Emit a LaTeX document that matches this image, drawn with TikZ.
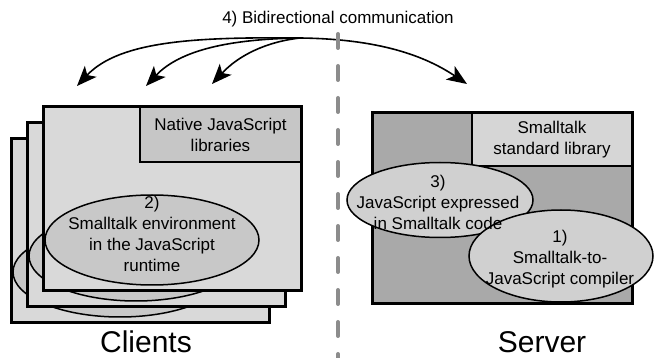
\documentclass[tikz,border=0pt]{standalone}
\usepackage{fontspec}
\setmainfont{Liberation Sans}
\usetikzlibrary{shapes.geometric,arrows.meta}
\definecolor{clientfill}{HTML}{D9D9D9}
\definecolor{libfill}{HTML}{C6C6C6}
\definecolor{serverfill}{HTML}{A9A9A9}
\definecolor{stdfill}{HTML}{D6D6D6}
\definecolor{ellfill}{HTML}{C8C8C8}
\definecolor{sellfill}{HTML}{D0D0D0}
\definecolor{dashgray}{HTML}{8C8C8C}
\tikzset{
  frame/.style={draw=black, line width=3pt, inner sep=0pt, outer sep=0pt,
    minimum width=258pt, minimum height=184pt},
  clientframe/.style={frame, fill=clientfill},
  serverframe/.style={frame, fill=serverfill, minimum width=260pt, minimum height=191pt},
  libbox/.style={draw=black, line width=1.5pt, inner sep=0pt, outer sep=0pt,
    align=center, font=\fontsize{17}{21}\selectfont},
  ell/.style={ellipse, draw=black, line width=1.5pt, inner sep=0pt, outer sep=0pt,
    align=center, font=\fontsize{17}{21}\selectfont},
  txt/.style={align=center, inner sep=0pt, font=\fontsize{17}{21}\selectfont},
  bigtxt/.style={inner sep=0pt, font=\fontsize{30}{36}\selectfont, anchor=base},
  comm/.style={line width=1.6pt},
  tipstyle/.style={-{Stealth[length=20pt,width=16pt,inset=5pt]}},
  bothtips/.style={{Stealth[length=20pt,width=16pt,inset=5pt]}-{Stealth[length=20pt,width=16pt,inset=5pt]}},
  divider/.style={draw=dashgray, line width=4pt, line cap=round, dash pattern=on 14pt off 18pt}
}
\begin{document}
\begin{tikzpicture}[x=1pt,y=-1pt]
\useasboundingbox (0,0) rectangle (657,358);

% --- clients (stacked)
\node[clientframe] (c3) at (140,231) {};
\node[ell, fill=ellfill, minimum width=214pt, minimum height=90pt] (e2c) at (120,272) {};
\node[clientframe] (c2) at (156,215) {};
\node[ell, fill=ellfill, minimum width=214pt, minimum height=90pt] (e2b) at (136,256) {};
\node[clientframe] (c1) at (172,199) {};
\node[libbox, fill=libfill, minimum width=161pt, minimum height=55pt, anchor=north east]
  (nat) at (c1.north east) {Native JavaScript\\libraries};
\draw[line width=3pt] (c1.north west) rectangle (c1.south east);
\node[ell, fill=ellfill, minimum width=214pt, minimum height=90pt] (e2) at (152,240) {};
\node[txt] (t2) at (152,233.5) {2)\\Smalltalk environment\\in the JavaScript\\runtime};

% --- server
\node[serverframe] (srv) at (502,208.5) {};
\node[libbox, fill=stdfill, minimum width=160pt, minimum height=53pt, anchor=north east]
  (std) at (srv.north east) {Smalltalk\\standard library};
\draw[line width=3pt] (srv.north west) rectangle (srv.south east);
\node[ell, fill=sellfill, minimum width=186pt, minimum height=75pt] (e3) at (440,200) {};
\node[ell, fill=sellfill, minimum width=184pt, minimum height=92pt] (e1) at (561,256) {};
\node[txt] (t3) at (438,202) {3)\\JavaScript expressed\\in Smalltalk code};
\node[txt] (t1) at (560,259) {1)\\Smalltalk-to-\\JavaScript compiler};

% --- labels
\node[bigtxt] (cl) at (146,353) {Clients};
\node[bigtxt] (sv) at (542,353) {Server};
\node[inner sep=0pt, anchor=base, font=\fontsize{17}{21}\selectfont] (bd) at (338,24) {4) Bidirectional communication};

% --- communication arrows
\coordinate (hub) at (300,38);
\coordinate (tipL) at (77,86);
\coordinate (tip2) at (146,86);
\coordinate (tip3) at (212,84);
\coordinate (tipR) at (467,84);
\draw[comm, bothtips] (tipL) .. controls (120,40) and (200,37) .. (hub)
  .. controls (380,39) and (425,56) .. (tipR);
\draw[comm, tipstyle] (hub) .. controls (230,39) and (180,50) .. (tip2);
\draw[comm, tipstyle] (hub) .. controls (265,42) and (238,56) .. (tip3);

% --- divider
\coordinate (dtop) at (338,34);
\coordinate (dbot) at (338,358);
\draw[divider] (dtop) -- (dbot);
\end{tikzpicture}
\end{document}
